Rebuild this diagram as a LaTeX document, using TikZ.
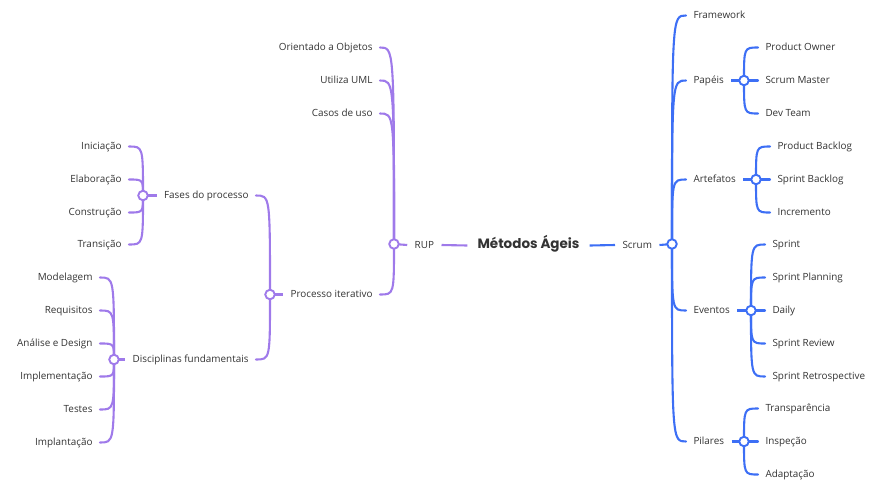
\documentclass[tikz,border=0pt]{standalone}
\usepackage{fontspec}
\setmainfont{Open Sans}
\newfontfamily\titlefont{Poppins}
\pgfdeclarelayer{bg}
\pgfsetlayers{bg,main}
\definecolor{rupc}{HTML}{9F7AEA}
\definecolor{scrc}{HTML}{3D6FF5}
\definecolor{txt}{HTML}{333333}
\newcommand{\mmbranch}[4]{% color, parent, child, anchor
  \draw[#1, line width=2.1pt, line cap=round] (#2.center) .. controls (#2.center |- #3.#4) and (#2.center |- #3.#4) .. (#3.#4);}
\tikzset{
  lbl/.style={font=\fontsize{9.9}{11}\selectfont, text=txt, inner xsep=7.5pt, inner ysep=0pt, outer sep=0pt, text height=1.5ex, text depth=.3ex},
  lleaf/.style={lbl, anchor=east},
  rleaf/.style={lbl, anchor=west},
  hub/.style={circle, draw=#1, fill=white, line width=1.9pt, minimum size=9.5pt, inner sep=0pt},
  link/.style={#1, line width=2.1pt}
}
\begin{document}
\begin{tikzpicture}[x=1pt,y=-1pt]
\useasboundingbox (0,0) rectangle (889,491);
% center
\node[font=\titlefont\bfseries\fontsize{13.5}{15}\selectfont, text=txt, inner xsep=10pt, text height=1.5ex, text depth=.3ex] (root) at (528.5,245.5) {Métodos Ágeis};
\node[lleaf] (rup) at (441.5,245) {RUP};
\node[rleaf] (scrum) at (615,245) {Scrum};
\node[hub=rupc] (rupdot) at (394,244) {};
\node[hub=scrc] (scrumdot) at (672,244) {};
% RUP side
\node[lleaf] (oo) at (380,47.5) {Orientado a Objetos};
\node[lleaf] (uml) at (380,80.5) {Utiliza UML};
\node[lleaf] (casos) at (380,113.5) {Casos de uso};
\node[lleaf] (proc) at (380,294.5) {Processo iterativo};
\node[hub=rupc] (procdot) at (270,294.5) {};
\node[lleaf] (fases) at (256,195.5) {Fases do processo};
\node[lleaf] (disc) at (256,359.5) {Disciplinas fundamentais};
\node[hub=rupc] (fasesdot) at (143,195.5) {};
\node[hub=rupc] (discdot) at (114,359.5) {};
\node[lleaf] (ini) at (129,146.5) {Iniciação};
\node[lleaf] (ela) at (129,179.5) {Elaboração};
\node[lleaf] (con) at (129,212.5) {Construção};
\node[lleaf] (tra) at (129,244.5) {Transição};
\node[lleaf] (mod) at (100,277.5) {Modelagem};
\node[lleaf] (req) at (100,310.5) {Requisitos};
\node[lleaf] (ana) at (100,343.5) {Análise e Design};
\node[lleaf] (imp) at (100,376.5) {Implementação};
\node[lleaf] (tes) at (100,409.5) {Testes};
\node[lleaf] (impl) at (100,442.5) {Implantação};
% Scrum side
\node[rleaf] (fw) at (686,15.5) {Framework};
\node[rleaf] (pap) at (686,80.5) {Papéis};
\node[rleaf] (art) at (686,179.5) {Artefatos};
\node[rleaf] (eve) at (686,310.5) {Eventos};
\node[rleaf] (pil) at (686,441.5) {Pilares};
\node[hub=scrc] (papdot) at (744,80.5) {};
\node[hub=scrc] (artdot) at (756,179.5) {};
\node[hub=scrc] (evedot) at (751,310.5) {};
\node[hub=scrc] (pildot) at (744,441.5) {};
\node[rleaf] (po) at (758,47.5) {Product Owner};
\node[rleaf] (sm) at (758,80.5) {Scrum Master};
\node[rleaf] (dt) at (758,113.5) {Dev Team};
\node[rleaf] (pb) at (770,146.5) {Product Backlog};
\node[rleaf] (sb) at (770,179.5) {Sprint Backlog};
\node[rleaf] (inc) at (770,212.5) {Incremento};
\node[rleaf] (spr) at (765,244.5) {Sprint};
\node[rleaf] (spl) at (765,277.5) {Sprint Planning};
\node[rleaf] (dai) at (765,310.5) {Daily};
\node[rleaf] (srv) at (765,343.5) {Sprint Review};
\node[rleaf] (sre) at (765,376.5) {Sprint Retrospective};
\node[rleaf] (tr) at (758,408.5) {Transparência};
\node[rleaf] (ins) at (758,441.5) {Inspeção};
\node[rleaf] (ada) at (758,474.5) {Adaptação};
\begin{pgfonlayer}{bg}
\draw[link=rupc] (rup.east) -- (root.west);
\draw[link=scrc] (root.east) -- (scrum.west);
\draw[link=rupc] (rupdot.center) -- (rup.west);
\draw[link=scrc] (scrum.east) -- (scrumdot.center);
\foreach \c in {oo,uml,casos,proc} {\mmbranch{rupc}{rupdot}{\c}{east}}
\draw[link=rupc] (procdot.center) -- (proc.west);
\foreach \c in {fases,disc} {\mmbranch{rupc}{procdot}{\c}{east}}
\draw[link=rupc] (fasesdot.center) -- (fases.west);
\draw[link=rupc] (discdot.center) -- (disc.west);
\foreach \c in {ini,ela,con,tra} {\mmbranch{rupc}{fasesdot}{\c}{east}}
\foreach \c in {mod,req,ana,imp,tes,impl} {\mmbranch{rupc}{discdot}{\c}{east}}
\foreach \c in {fw,pap,art,eve,pil} {\mmbranch{scrc}{scrumdot}{\c}{west}}
\draw[link=scrc] (pap.east) -- (papdot.center);
\draw[link=scrc] (art.east) -- (artdot.center);
\draw[link=scrc] (eve.east) -- (evedot.center);
\draw[link=scrc] (pil.east) -- (pildot.center);
\foreach \c in {po,sm,dt} {\mmbranch{scrc}{papdot}{\c}{west}}
\foreach \c in {pb,sb,inc} {\mmbranch{scrc}{artdot}{\c}{west}}
\foreach \c in {spr,spl,dai,srv,sre} {\mmbranch{scrc}{evedot}{\c}{west}}
\foreach \c in {tr,ins,ada} {\mmbranch{scrc}{pildot}{\c}{west}}
\end{pgfonlayer}
\end{tikzpicture}
\end{document}
